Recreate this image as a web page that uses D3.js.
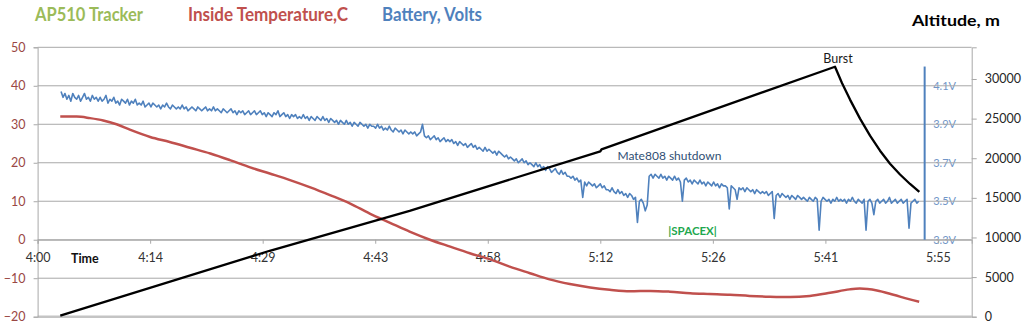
<!DOCTYPE html>
<html>
<head>
<meta charset="utf-8">
<script src="https://cdn.jsdelivr.net/npm/d3@7"></script>
<style>
  html, body { margin: 0; padding: 0; background: #fff; }
  svg { display: block; font-family: Lato, "Open Sans", sans-serif; }
</style>
</head>
<body>
<svg id="chart" width="1024" height="329"></svg>
<script>
// ---- data (time in minutes after 4:00) ----
const xTickMinutes = [0, 14.4, 28.8, 43.2, 57.6, 72, 86.4, 100.8, 115.2];
const xTickLabels = ["4:00", "4:14", "4:29", "4:43", "4:58", "5:12", "5:26", "5:41", "5:55"];
const tempTicks = [-20, -10, 0, 10, 20, 30, 40, 50];
const altTicks = [0, 5000, 10000, 15000, 20000, 25000, 30000];
const voltTicks = [3.3, 3.5, 3.7, 3.9, 4.1];

// inside temperature, C
const tempTime = [2.9, 5.0, 6.7, 8.4, 10.1, 11.8, 14.4, 16.9, 19.5, 22.1, 24.6, 27.2, 29.7, 32.3, 34.9, 37.4,
  40.0, 42.5, 45.1, 47.6, 50.2, 52.8, 55.3, 57.9, 60.4, 63.0, 65.5, 68.1, 70.7, 73.2, 75.8, 78.4, 80.9,
  83.5, 86.0, 88.6, 91.1, 93.7, 96.3, 98.8, 101.4, 103.9, 105.2, 107.4, 109.5, 111.6, 112.8];
const tempValue = [32.0, 32.0, 31.6, 31.0, 30.0, 28.6, 26.7, 25.4, 23.9, 22.4, 20.7, 18.8, 17.2, 15.5, 13.6, 11.6,
  9.4, 6.8, 4.4, 2.1, 0.0, -1.8, -3.5, -5.1, -7.0, -8.7, -10.3, -11.5, -12.4, -13.0, -13.4, -13.3, -13.5,
  -13.9, -14.1, -14.3, -14.6, -14.8, -14.9, -14.6, -13.8, -12.9, -12.7, -13.2, -14.3, -15.5, -16.1];

// altitude, m
const altTime = [2.9, 29.7, 47.6, 72.0, 72.15, 102.03, 102.92, 103.95, 105.23, 106.51, 107.79, 109.07, 110.35, 111.63, 112.82];
const altValue = [130, 8320, 13360, 20870, 21120, 31550, 29500, 27400, 25000, 22850, 20950, 19300, 17950, 16750, 15750];

// battery, volts: one sample every 15 s starting at 4:03
const battStart = 3.0;
const battStep = 0.25;
const battVolts = [
  4.07,4.04,4.06,4.03,4.05,4.02,4.06,4.04,4.03,4.05,4.02,4.04,4.06,4.03,4.04,4.02,4.05,4.03,4.04,4.02,
  4.04,4.02,4.03,4.05,4.01,4.03,4.02,4.04,4.01,4.02,4.00,4.03,4.02,4.01,4.03,4.00,4.02,4.01,4.03,4.00,
  4.01,4.00,4.02,3.99,4.00,4.01,3.99,4.01,4.00,3.99,4.00,3.98,4.00,3.99,4.01,3.99,3.98,4.00,3.99,3.98,
  3.99,3.98,4.00,3.98,3.99,3.97,3.98,3.99,3.98,3.97,3.99,3.98,3.97,3.98,3.99,3.97,3.98,3.97,3.99,3.97,
  3.98,3.97,3.96,3.98,3.97,3.96,3.97,3.98,3.96,3.97,3.95,3.97,3.96,3.97,3.95,3.96,3.97,3.95,3.96,3.97,
  3.95,3.96,3.97,3.95,3.96,3.94,3.96,3.95,3.94,3.96,3.95,3.97,3.94,3.95,3.96,3.94,3.95,3.93,3.95,3.94,
  3.95,3.93,3.94,3.93,3.95,3.93,3.94,3.92,3.94,3.93,3.92,3.94,3.93,3.92,3.94,3.92,3.93,3.91,3.93,3.92,
  3.91,3.92,3.90,3.92,3.91,3.90,3.92,3.90,3.91,3.89,3.91,3.90,3.89,3.91,3.90,3.89,3.90,3.88,3.90,3.89,
  3.89,3.88,3.90,3.88,3.89,3.87,3.88,3.87,3.89,3.87,3.86,3.88,3.87,3.86,3.87,3.85,3.87,3.86,3.85,3.86,
  3.85,3.86,3.84,3.85,3.86,3.90,3.84,3.83,3.84,3.82,3.83,3.84,3.82,3.83,3.81,3.82,3.83,3.81,3.82,3.81,
  3.82,3.80,3.81,3.79,3.81,3.80,3.79,3.80,3.78,3.79,3.80,3.78,3.79,3.77,3.78,3.77,3.76,3.78,3.76,3.77,
  3.76,3.75,3.76,3.74,3.76,3.75,3.74,3.73,3.74,3.72,3.73,3.72,3.71,3.72,3.70,3.71,3.72,3.70,3.71,3.69,
  3.70,3.69,3.68,3.70,3.68,3.69,3.67,3.68,3.66,3.68,3.67,3.65,3.66,3.67,3.65,3.64,3.66,3.64,3.65,3.63,
  3.63,3.62,3.63,3.61,3.62,3.60,3.61,3.52,3.60,3.58,3.60,3.59,3.58,3.59,3.57,3.58,3.59,3.57,3.58,3.56,
  3.56,3.55,3.57,3.55,3.54,3.56,3.54,3.55,3.53,3.54,3.52,3.54,3.53,3.51,3.52,3.39,3.50,3.51,3.49,3.45,
  3.48,3.63,3.64,3.62,3.64,3.63,3.62,3.64,3.62,3.63,3.61,3.63,3.62,3.61,3.63,3.61,3.62,3.60,3.50,3.61,
  3.62,3.60,3.61,3.59,3.61,3.60,3.59,3.61,3.59,3.60,3.58,3.60,3.59,3.58,3.60,3.58,3.59,3.57,3.59,3.58,
  3.58,3.57,3.46,3.58,3.57,3.56,3.51,3.57,3.56,3.57,3.55,3.57,3.56,3.55,3.56,3.54,3.56,3.55,3.54,3.55,
  3.54,3.55,3.53,3.54,3.55,3.41,3.53,3.54,3.52,3.54,3.53,3.52,3.53,3.51,3.53,3.52,3.51,3.53,3.52,3.51,
  3.52,3.51,3.50,3.52,3.51,3.50,3.52,3.51,3.35,3.50,3.52,3.51,3.50,3.51,3.49,3.51,3.50,3.52,3.50,3.51,
  3.50,3.51,3.49,3.51,3.50,3.52,3.50,3.49,3.51,3.50,3.49,3.51,3.35,3.50,3.51,3.49,3.43,3.50,3.51,3.49,
  3.50,3.51,3.49,3.50,3.52,3.49,3.50,3.51,3.49,3.50,3.51,3.49,3.50,3.51,3.36,3.49,3.50,3.51,3.49,3.50
];

// ---- layout ----
const svg = d3.select("#chart");
const plotLeft = 37.6, plotRight = 971.7, plotTop = 47.3, plotBottom = 316.7;
const voltAxisMinute = 113.5;

const x = d3.scaleLinear().domain([0, 119.52]).range([plotLeft, plotRight]);
const yT = d3.scaleLinear().domain([-20, 50]).range([plotBottom, plotTop]);
const yA = d3.scaleLinear().domain([0, 34000]).range([plotBottom, plotTop]);
const yV = d3.scaleLinear().domain([3.3, 4.2]).range([yT(0), yT(45)]);

const gridColor = "#a8a8a8";

// battery scale labels (drawn under the gridlines)
const vx = x(voltAxisMinute);
svg.append("g").selectAll("text").data(voltTicks).join("text")
  .attr("x", vx + 20).attr("y", d => yV(d)).attr("dy", "0.35em")
  .attr("text-anchor", "middle").attr("font-size", 11).attr("fill", "#7196c8")
  .text(d => d.toFixed(1) + "V");

// gridlines
svg.append("g").selectAll("line").data(tempTicks).join("line")
  .attr("x1", plotLeft).attr("x2", plotRight)
  .attr("y1", d => yT(d)).attr("y2", d => yT(d))
  .attr("stroke", (d) => d === -20 ? "#c4c4c4" : gridColor)
  .attr("stroke-width", d => d === -20 ? 2.5 : 1);

// left axis (temperature)
const gL = svg.append("g").attr("transform", `translate(${plotLeft},0)`)
  .call(d3.axisLeft(yT).tickValues(tempTicks).tickSize(4).tickPadding(8).tickFormat(d3.format("d")));
gL.select(".domain").attr("stroke", gridColor);
gL.selectAll(".tick line").attr("stroke", gridColor);
gL.selectAll("text").attr("font-size", 12.5).attr("fill", "#9a4744").attr("font-family", "Lato, sans-serif");

// right axis (altitude)
const gR = svg.append("g").attr("transform", `translate(${plotRight},0)`)
  .call(d3.axisRight(yA).tickValues(altTicks).tickSize(5).tickPadding(8).tickFormat(d3.format("d")));
gR.select(".domain").attr("stroke", gridColor);
gR.selectAll(".tick line").attr("stroke", gridColor);
gR.selectAll("text").attr("font-size", 12.5).attr("fill", "#262626").attr("font-family", "Lato, sans-serif");

// time axis along the zero line
const gX = svg.append("g").attr("transform", `translate(0,${yT(0)})`)
  .call(d3.axisBottom(x).tickValues(xTickMinutes).tickSize(4).tickPadding(9)
    .tickFormat((d, i) => xTickLabels[i]));
gX.select(".domain").attr("stroke", gridColor);
gX.selectAll(".tick line").attr("stroke", gridColor);
gX.selectAll("text").attr("font-size", 12.5).attr("fill", "#333").attr("font-family", "Lato, sans-serif");

svg.append("text").attr("x", 71).attr("y", 263).attr("font-size", 12.5).attr("font-weight", "bold")
  .attr("fill", "#111").text("Time");

// battery scale line
svg.append("line").attr("x1", vx).attr("x2", vx).attr("y1", yV(4.2)).attr("y2", yV(3.3))
  .attr("stroke", "#4f81bd").attr("stroke-width", 2);

// series
const battIdx = d3.range(battVolts.length);
svg.append("path")
  .attr("d", d3.line().x(i => x(battStart + i * battStep)).y(i => yV(battVolts[i]))(battIdx))
  .attr("fill", "none").attr("stroke", "#4f81bd").attr("stroke-width", 1.6).attr("stroke-linejoin", "round");

const tIdx = d3.range(tempTime.length);
svg.append("path")
  .attr("d", d3.line().curve(d3.curveMonotoneX).x(i => x(tempTime[i])).y(i => yT(tempValue[i]))(tIdx))
  .attr("fill", "none").attr("stroke", "#c0504d").attr("stroke-width", 2.5);

const aIdx = d3.range(altTime.length);
svg.append("path")
  .attr("d", d3.line().x(i => x(altTime[i])).y(i => yA(altValue[i]))(aIdx))
  .attr("fill", "none").attr("stroke", "#000").attr("stroke-width", 2.3).attr("stroke-linejoin", "round");

// annotations
const burstI = altValue.indexOf(d3.max(altValue));
svg.append("text").attr("x", x(altTime[burstI]) + 3).attr("y", yA(altValue[burstI]) - 4)
  .attr("text-anchor", "middle").attr("font-size", 12.5).attr("fill", "#1a1a1a").text("Burst");
svg.append("text").attr("x", x(74.2)).attr("y", yT(20.8))
  .attr("font-size", 12).attr("fill", "#2f4f74").text("Mate808 shutdown");
svg.append("text").attr("x", x(80.7)).attr("y", yT(1.3))
  .attr("font-size", 11.5).attr("font-weight", "bold").attr("fill", "#1fa84f").text("|SPACEX|");

// titles
const titles = [
  { text: "AP510 Tracker", x: 35, w: 108, color: "#9bbb59" },
  { text: "Inside Temperature,C", x: 188, w: 160, color: "#c0504d" },
  { text: "Battery, Volts", x: 382, w: 100, color: "#4f81bd" }
];
svg.append("g").selectAll("text").data(titles).join("text")
  .attr("x", d => d.x).attr("y", 20.5).attr("font-size", 18).attr("font-weight", "bold")
  .attr("fill", d => d.color).attr("textLength", d => d.w).attr("lengthAdjust", "spacingAndGlyphs")
  .text(d => d.text);
svg.append("text").attr("x", 912).attr("y", 26).attr("font-size", 16).attr("font-weight", "bold")
  .attr("fill", "#000").attr("textLength", 88).attr("lengthAdjust", "spacingAndGlyphs").text("Altitude, m");
</script>
</body>
</html>
